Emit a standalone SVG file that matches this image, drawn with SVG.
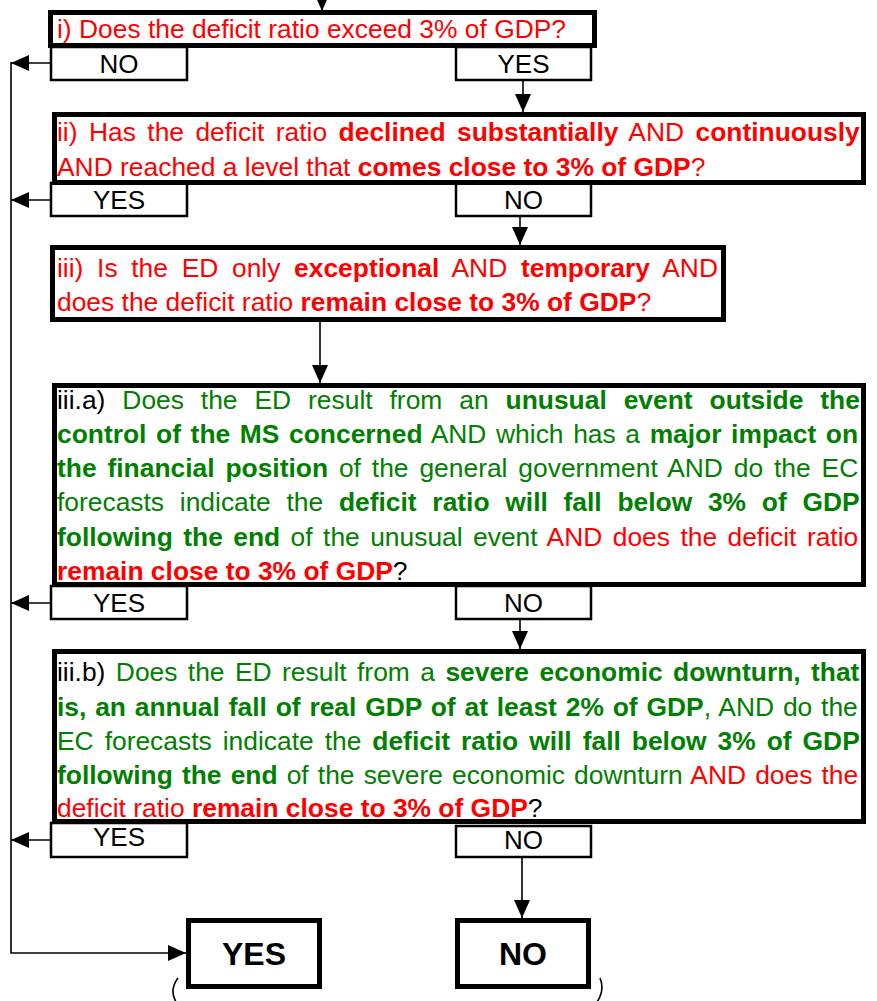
<svg xmlns="http://www.w3.org/2000/svg" width="877" height="1001" viewBox="0 0 877 1001">
<style>
  .box{fill:#fff;stroke:#000;stroke-width:5}
  .lbl{fill:#fff;stroke:#000;stroke-width:2.5}
  .t{font-family:"Liberation Sans",Arial,sans-serif;font-size:26.4px}
  .r{fill:#ff0000}
  .g{fill:#008000}
  .k{fill:#000}
  .b{font-weight:bold}
  .lt{font-family:"Liberation Sans",Arial,sans-serif;font-size:26px;fill:#000;text-anchor:middle}
  .ft{font-family:"Liberation Sans",Arial,sans-serif;font-size:32px;font-weight:bold;fill:#000;text-anchor:middle}
  .c{fill:none;stroke:#000;stroke-width:1.6}
</style>
<defs>
  <marker id="ah" markerUnits="userSpaceOnUse" markerWidth="20" markerHeight="18" refX="18" refY="8" orient="auto">
    <path d="M0,0 L18,8 L0,16 z" fill="#000"/>
  </marker>
</defs>

<g id="connectors">
  <path class="c" d="M322,-10 V11" marker-end="url(#ah)"/>
  <path class="c" d="M11,62 V953 H186" marker-end="url(#ah)"/>
  <path class="c" d="M51,63 H11" marker-end="url(#ah)"/>
  <path class="c" d="M51,200 H11" marker-end="url(#ah)"/>
  <path class="c" d="M51,603 H11" marker-end="url(#ah)"/>
  <path class="c" d="M51,840 H11" marker-end="url(#ah)"/>
  <path class="c" d="M523,80 V112" marker-end="url(#ah)"/>
  <path class="c" d="M520,216 V245" marker-end="url(#ah)"/>
  <path class="c" d="M320,322 V383" marker-end="url(#ah)"/>
  <path class="c" d="M520,619 V649" marker-end="url(#ah)"/>
  <path class="c" d="M522,857 V918" marker-end="url(#ah)"/>
</g>

<g id="q1">
  <rect class="lbl" x="51" y="47" width="136" height="33"/>
  <text class="lt" x="119" y="73">NO</text>
  <rect class="lbl" x="456" y="47" width="135" height="33"/>
  <text class="lt" x="523.5" y="73">YES</text>
  <rect class="box" x="50.5" y="12.5" width="544" height="33"/>
  <text class="t r" x="57" y="38">i) Does the deficit ratio exceed 3% of GDP?</text>
</g>

<g id="q2">
  <rect class="lbl" x="51" y="183" width="136" height="33"/>
  <text class="lt" x="119" y="209">YES</text>
  <rect class="lbl" x="456" y="183" width="135" height="33"/>
  <text class="lt" x="523.5" y="209">NO</text>
  <rect class="box" x="54.5" y="114.5" width="809" height="68"/>
  <text class="t r" x="57" y="141" word-spacing="4.1">ii) Has the deficit ratio <tspan class="b">declined substantially</tspan> AND <tspan class="b">continuously</tspan></text>
  <text class="t r" x="57" y="176">AND reached a level that <tspan class="b">comes close to 3% of GDP</tspan>?</text>
</g>

<g id="q3">
  <rect class="box" x="52.5" y="247.5" width="671" height="72"/>
  <text class="t r" x="57" y="277" word-spacing="6.35">iii) Is the ED only <tspan class="b">exceptional</tspan> AND <tspan class="b">temporary</tspan> AND</text>
  <text class="t r" x="57" y="311">does the deficit ratio <tspan class="b">remain close to 3% of GDP</tspan>?</text>
</g>

<g id="q3a">
  <rect class="lbl" x="51" y="586" width="136" height="33"/>
  <text class="lt" x="119" y="612">YES</text>
  <rect class="lbl" x="456" y="586" width="135" height="33"/>
  <text class="lt" x="523.5" y="612">NO</text>
  <rect class="box" x="54.5" y="385.5" width="809" height="199"/>
  <text class="t g" x="57" y="409" word-spacing="9.6"><tspan class="k">iii.a)</tspan> Does the ED result from an <tspan class="b">unusual event outside the</tspan></text>
  <text class="t g" x="57" y="443" word-spacing="2.3"><tspan class="b">control of the MS concerned</tspan> AND which has a <tspan class="b">major impact on</tspan></text>
  <text class="t g" x="57" y="477" word-spacing="3.56"><tspan class="b">the financial position</tspan> of the general government AND do the EC</text>
  <text class="t g" x="57" y="511" word-spacing="8.4">forecasts indicate the <tspan class="b">deficit ratio will fall below 3% of GDP</tspan></text>
  <text class="t g" x="57" y="546" word-spacing="3.1"><tspan class="b">following the end</tspan> of the unusual event <tspan class="r">AND does the deficit ratio</tspan></text>
  <text class="t r" x="57" y="580"><tspan class="b">remain close to 3% of GDP</tspan><tspan class="k">?</tspan></text>
</g>

<g id="q3b">
  <rect class="lbl" x="51" y="823" width="136" height="34"/>
  <text class="lt" x="119" y="846">YES</text>
  <rect class="lbl" x="456" y="826" width="135" height="31"/>
  <text class="lt" x="523.5" y="849">NO</text>
  <rect class="box" x="54.5" y="651.5" width="809" height="170"/>
  <text class="t g" x="57" y="681" word-spacing="3.1"><tspan class="k">iii.b)</tspan> Does the ED result from a <tspan class="b">severe economic downturn, that</tspan></text>
  <text class="t g" x="57" y="716" word-spacing="1.5"><tspan class="b">is, an annual fall of real GDP of at least 2% of GDP</tspan>, AND do the</text>
  <text class="t g" x="57" y="750" word-spacing="3.65">EC forecasts indicate the <tspan class="b">deficit ratio will fall below 3% of GDP</tspan></text>
  <text class="t g" x="57" y="784" word-spacing="1.8"><tspan class="b">following the end</tspan> of the severe economic downturn <tspan class="r">AND does the</tspan></text>
  <text class="t r" x="57" y="817">deficit ratio <tspan class="b">remain close to 3% of GDP</tspan><tspan class="k">?</tspan></text>
</g>

<g id="final-yes">
  <rect class="box" x="188.5" y="920.5" width="131" height="66"/>
  <text class="ft" x="254" y="965">YES</text>
</g>

<g id="final-no">
  <rect class="box" x="457.5" y="920.5" width="131" height="66"/>
  <text class="ft" x="523" y="965">NO</text>
</g>

<g id="brackets">
  <path class="c" d="M178,978 Q169,990 176,1002"/>
  <path class="c" d="M600,978 Q605,990 597,1002"/>
</g>
</svg>
